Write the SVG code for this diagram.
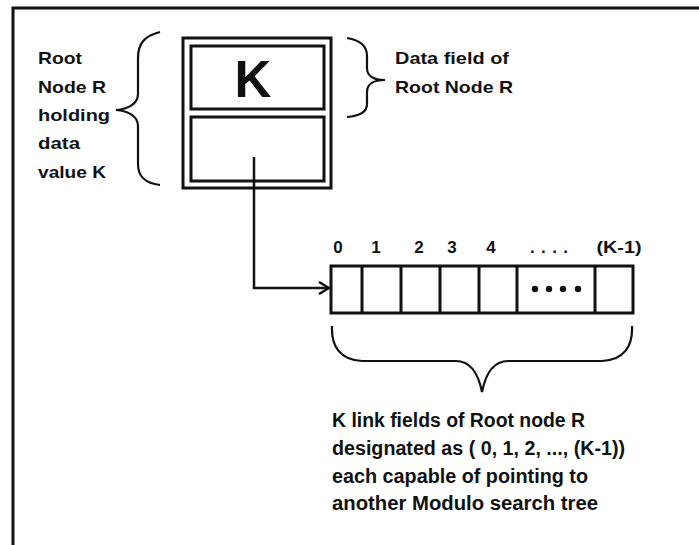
<svg xmlns="http://www.w3.org/2000/svg" width="699" height="545" viewBox="0 0 699 545">
<style>
text{font-family:"Liberation Sans",Arial,sans-serif;font-weight:bold;fill:#111}
.lbl{font-size:17px}
.big{font-size:20px}
.box{fill:none;stroke:#111;stroke-width:3}
.brace{fill:none;stroke:#111;stroke-width:2.2}
.conn{fill:none;stroke:#111;stroke-width:2.5}
</style>
<defs>
<marker id="arr" markerWidth="12" markerHeight="14" refX="11" refY="7" orient="auto" markerUnits="userSpaceOnUse">
<path d="M1,1 L11,7 L1,13" fill="none" stroke="#111" stroke-width="2.5"/>
</marker>
</defs>
<rect width="699" height="545" fill="#fff"/>
<rect x="13" y="8" width="700" height="560" fill="none" stroke="#111" stroke-width="3"/>

<g id="root-node">
<rect class="box" x="183" y="38" width="148" height="150"/>
<rect class="box" x="191" y="46" width="133" height="63" stroke-width="2.6"/>
<rect class="box" x="191" y="117" width="133" height="64" stroke-width="2.6"/>
<text x="253" y="97" font-size="51" text-anchor="middle">K</text>
</g>

<g id="root-label">
<path class="brace" d="M160,32 C144,36 138,44 138,58 L138,94 C138,104 128,109 116,110 C128,111 138,116 138,126 L138,164 C138,176 144,183 160,185"/>
<text class="lbl" x="38" y="64" textLength="44" lengthAdjust="spacingAndGlyphs">Root</text>
<text class="lbl" x="38" y="93" textLength="68" lengthAdjust="spacingAndGlyphs">Node R</text>
<text class="lbl" x="38" y="121" textLength="72" lengthAdjust="spacingAndGlyphs">holding</text>
<text class="lbl" x="38" y="149" textLength="42" lengthAdjust="spacingAndGlyphs">data</text>
<text class="lbl" x="38" y="178" textLength="68" lengthAdjust="spacingAndGlyphs">value K</text>
</g>

<g id="data-label">
<path class="brace" d="M347,38 C360,40 367,46 367,56 L367,68 C367,76 374,80 385,80 C374,80 367,84 367,92 L367,104 C367,112 360,116 347,117"/>
<text class="lbl" x="395" y="64" textLength="114" lengthAdjust="spacingAndGlyphs">Data field of</text>
<text class="lbl" x="395" y="93" textLength="118" lengthAdjust="spacingAndGlyphs">Root Node R</text>
</g>

<g id="link-array">
<rect class="box" x="331" y="266" width="302" height="47"/>
<path d="M362,266V313M401,266V313M440,266V313M479,266V313M517,266V313M595,266V313" stroke="#111" stroke-width="3" fill="none"/>
<g fill="#111">
<circle cx="535" cy="289" r="3.2"/><circle cx="549" cy="289" r="3.2"/><circle cx="563" cy="289" r="3.2"/><circle cx="578" cy="289" r="3.2"/>
</g>
<text class="lbl" x="338" y="253" text-anchor="middle">0</text>
<text class="lbl" x="376" y="253" text-anchor="middle">1</text>
<text class="lbl" x="419" y="253" text-anchor="middle">2</text>
<text class="lbl" x="452" y="253" text-anchor="middle">3</text>
<text class="lbl" x="491" y="253" text-anchor="middle">4</text>
<text class="lbl" x="530" y="253" textLength="38" lengthAdjust="spacing">....</text>
<text class="lbl" x="619" y="253" text-anchor="middle" textLength="45" lengthAdjust="spacingAndGlyphs">(K-1)</text>
</g>

<g id="link-label">
<path class="brace" d="M332,326 C331,346 340,360 362,361 L456,361 C470,361 478,372 482,392 C486,372 494,361 508,361 L602,361 C624,360 633,346 632,326"/>
<text class="big" x="332" y="427" textLength="253" lengthAdjust="spacingAndGlyphs">K link fields of Root node R</text>
<text class="big" x="332" y="455" textLength="293" lengthAdjust="spacingAndGlyphs">designated as ( 0, 1, 2, ..., (K-1))</text>
<text class="big" x="332" y="483" textLength="256" lengthAdjust="spacingAndGlyphs">each capable of pointing to</text>
<text class="big" x="332" y="510" textLength="266" lengthAdjust="spacingAndGlyphs">another Modulo search tree</text>
</g>

<g id="connectors">
<path class="conn" d="M254,157 L254,288 L329,288" marker-end="url(#arr)"/>
</g>
</svg>
